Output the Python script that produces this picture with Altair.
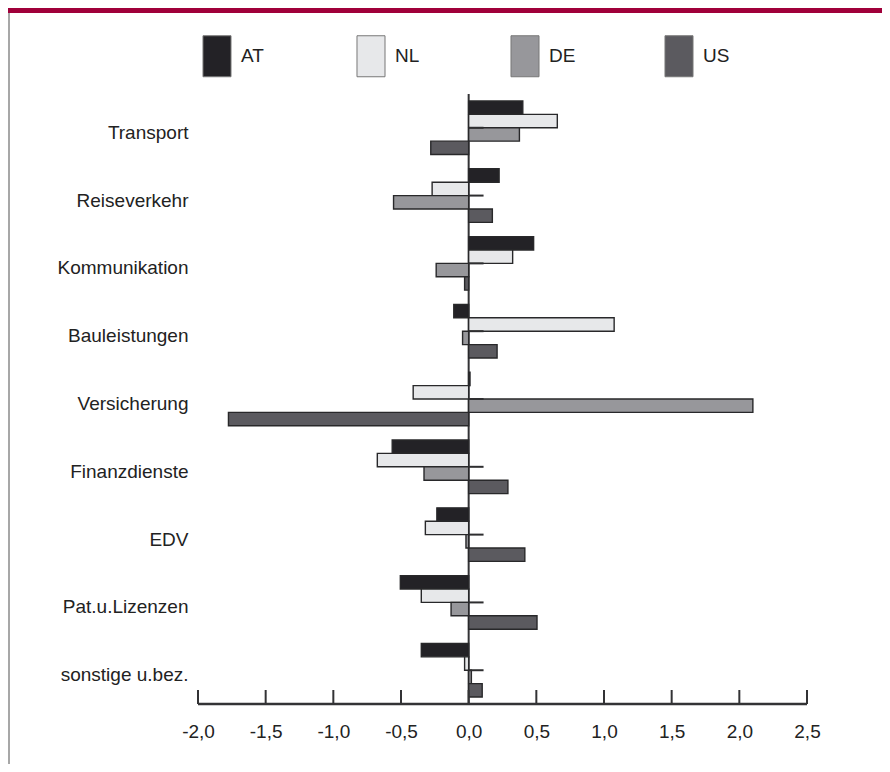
import altair as alt
import pandas as pd

categories = ["Transport", "Reiseverkehr", "Kommunikation", "Bauleistungen",
              "Versicherung", "Finanzdienste", "EDV", "Pat.u.Lizenzen",
              "sonstige u.bez."]
series = ["AT", "NL", "DE", "US"]
at_values = [0.40, 0.225, 0.48, -0.11, 0.01, -0.565, -0.235, -0.505, -0.35]
nl_values = [0.655, -0.27, 0.325, 1.075, -0.41, -0.675, -0.32, -0.35, -0.03]
de_values = [0.375, -0.555, -0.24, -0.045, 2.10, -0.33, -0.02, -0.13, 0.02]
us_values = [-0.28, 0.175, -0.03, 0.21, -1.775, 0.29, 0.415, 0.505, 0.10]
colors = ["#232226", "#e7e8ea", "#97979b", "#5b5a5f"]
x_ticks = [-2.0, -1.5, -1.0, -0.5, 0.0, 0.5, 1.0, 1.5, 2.0, 2.5]

rows = []
for s, vals in zip(series, [at_values, nl_values, de_values, us_values]):
    for c, v in zip(categories, vals):
        rows.append({"Kategorie": c, "Land": s, "Wert": v})
df = pd.DataFrame(rows)

W, H = 609, 610
FONT = "Liberation Sans"
FS = 19
xscale = alt.Scale(domain=[-2, 2.5], nice=False)
yscale = alt.Scale(domain=categories, paddingInner=0.21, paddingOuter=0.103)

x_axis = alt.Axis(values=x_ticks,
                  labelExpr="replace(replace(format(datum.value, '.1f'), '.', ','), '\u2212', '-')",
                  ticks=False, domain=False, grid=False, labelFlush=False,
                  labelFontSize=FS, labelPadding=18, title=None,
                  labelFont=FONT, labelColor="#222")
y_axis = alt.Axis(title=None, ticks=False, domain=False, grid=False,
                  labelFontSize=FS, labelFont=FONT, labelColor="#222",
                  labelPadding=10, labelBaseline="middle", labelOffset=5)

bars = alt.Chart(df).mark_bar(stroke="#28282a", strokeWidth=1.4).encode(
    x=alt.X("Wert:Q", scale=xscale, axis=x_axis),
    y=alt.Y("Kategorie:N", sort=categories, scale=yscale, axis=y_axis),
    yOffset=alt.YOffset("Land:N", sort=series,
                        scale=alt.Scale(domain=series, paddingInner=0, paddingOuter=0)),
    color=alt.Color("Land:N", sort=series,
                    scale=alt.Scale(domain=series, range=colors),
                    legend=alt.Legend(title=None, orient="none", legendX=-2, legendY=-59,
                                      direction="horizontal", columns=4,
                                      symbolType="M-0.683,-1H0.683V1H-0.683Z",
                                      symbolSize=1681, symbolStrokeColor="#777",
                                      symbolStrokeWidth=1, symbolOpacity=1,
                                      labelFontSize=FS, labelFont=FONT, labelColor="#222",
                                      labelOffset=3, columnPadding=82, gridAlign="all",
                                      padding=0)),
)

zero_df = pd.DataFrame({"Wert": [0.0]})
zero_line = alt.Chart(zero_df).mark_rule(color="#333335", strokeWidth=2).encode(
    x=alt.X("Wert:Q", scale=xscale, axis=x_axis), y=alt.value(0), y2=alt.value(H))

tick_len = [0.11]
cat_df = pd.DataFrame({"Kategorie": categories, "Wert": [0.0] * len(categories),
                       "Ende": tick_len * len(categories)})
cat_ticks = alt.Chart(cat_df).mark_rule(color="#2e2e30", strokeWidth=2).encode(
    y=alt.Y("Kategorie:N", sort=categories, scale=yscale, axis=y_axis),
    x=alt.X("Wert:Q", scale=xscale, axis=x_axis), x2="Ende:Q")

tick_df = pd.DataFrame({"Wert": x_ticks})
x_tick_marks = alt.Chart(tick_df).mark_rule(color="#333335", strokeWidth=2).encode(
    x=alt.X("Wert:Q", scale=xscale, axis=x_axis), y=alt.value(H), y2=alt.value(H - 14))

base_df = pd.DataFrame({"Wert": [x_ticks[0]], "Ende": [x_ticks[-1]]})
baseline = alt.Chart(base_df).mark_rule(color="#333335", strokeWidth=2.5).encode(
    x=alt.X("Wert:Q", scale=xscale, axis=x_axis), x2="Ende:Q", y=alt.value(H))

deco_df = pd.DataFrame({"a": [0]})
red_band = alt.Chart(deco_df).mark_rect(color="#a0003a").encode(
    x=alt.value(-190), x2=alt.value(W + 75), y=alt.value(-86), y2=alt.value(-81))
left_border = alt.Chart(deco_df).mark_rule(color="#8a8a8a", strokeWidth=1.5).encode(
    x=alt.value(-189), y=alt.value(-81), y2=alt.value(H + 60))

chart = alt.layer(red_band, left_border, zero_line, bars, cat_ticks, x_tick_marks, baseline).properties(
    width=W, height=H,
    padding={"left": 190, "top": 86, "right": 75, "bottom": 60},
    autosize=alt.AutoSizeParams(type="none"),
).configure_view(stroke=None)

chart.save("out.html", embed_options={"renderer": "svg", "actions": False})
